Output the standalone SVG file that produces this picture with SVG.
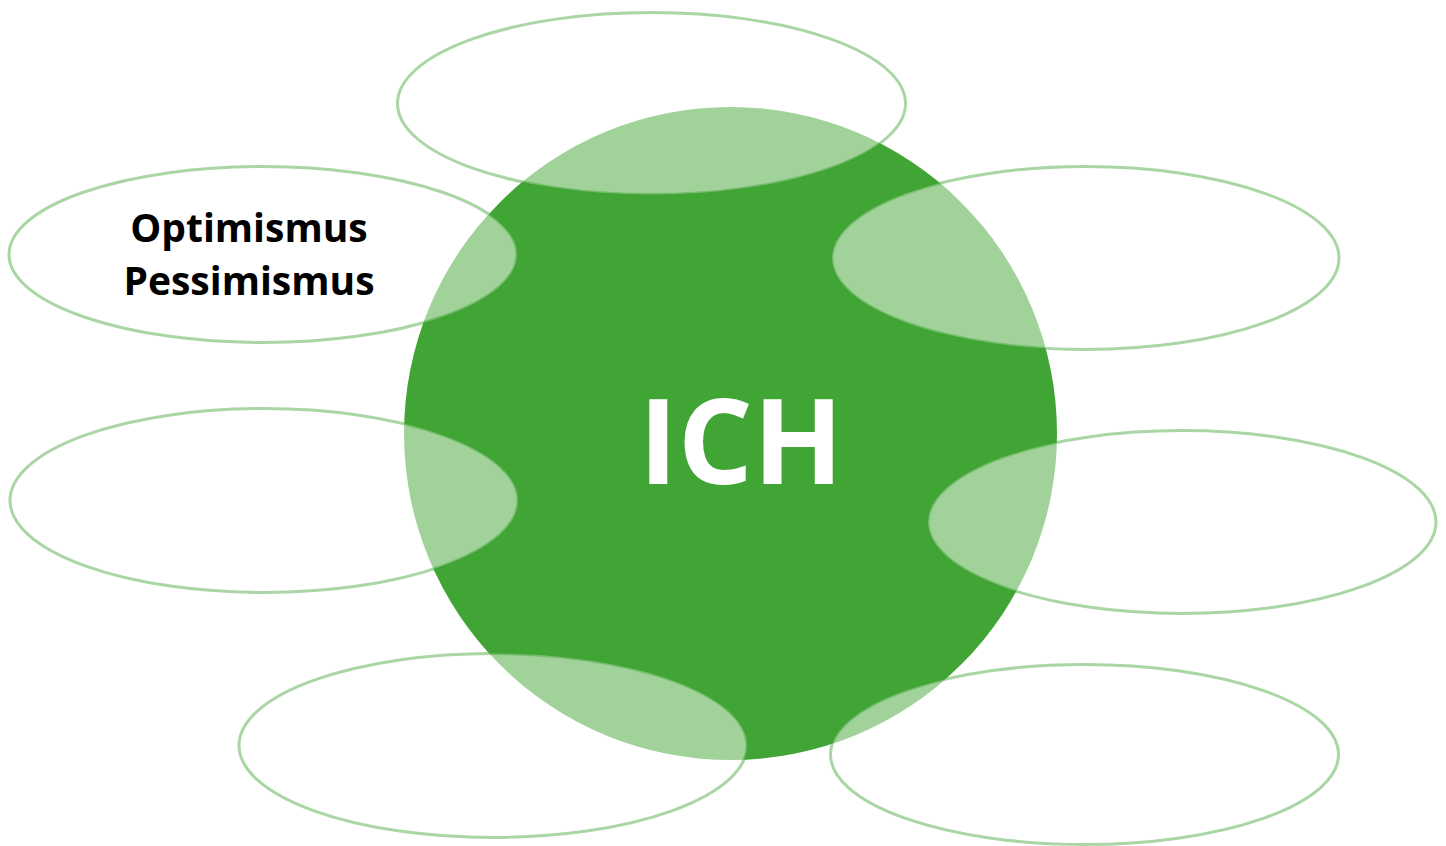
<svg xmlns="http://www.w3.org/2000/svg" width="1446" height="846" viewBox="0 0 1446 846">
<style>
.bubble{fill:#ffffff;fill-opacity:0.5;stroke:#41a535;stroke-opacity:0.45;stroke-width:3}
.lbl{font-family:"Open Sans","Noto Sans",sans-serif;font-weight:700;font-size:39px;fill:#000;text-anchor:middle}
</style>
<rect width="1446" height="846" fill="#ffffff"/>
<g id="center">
<circle cx="730.5" cy="433.5" r="326.5" fill="#41a535"/>
<text x="741" y="484" font-family="'Open Sans','Noto Sans',sans-serif" font-weight="700" font-size="118" fill="#ffffff" text-anchor="middle">ICH</text>
</g>
<g id="e-top"><ellipse class="bubble" cx="651.5" cy="103.5" rx="254" ry="91"/></g>
<g id="e-topleft"><ellipse class="bubble" cx="263" cy="254.5" rx="254" ry="88"/>
<text class="lbl" x="249" y="242">Optimismus</text>
<text class="lbl" x="249" y="295">Pessimismus</text></g>
<g id="e-topright"><ellipse class="bubble" cx="1085.5" cy="258" rx="253.5" ry="91.5"/></g>
<g id="e-midleft"><ellipse class="bubble" cx="264" cy="500.5" rx="254" ry="92"/></g>
<g id="e-midright"><ellipse class="bubble" cx="1182" cy="522" rx="254" ry="91.5"/></g>
<g id="e-botleft"><ellipse class="bubble" cx="493" cy="745.5" rx="254" ry="92"/></g>
<g id="e-botright"><ellipse class="bubble" cx="1084.5" cy="754.5" rx="254" ry="90"/></g>
<g id="connectors"/>
</svg>
